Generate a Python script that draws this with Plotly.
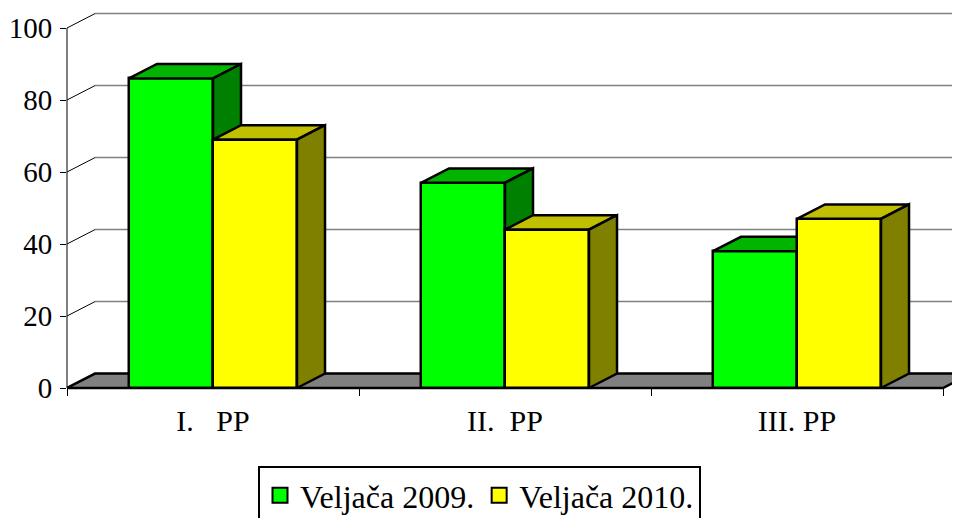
import plotly.graph_objects as go

# ---- data ----
categories = ["I.\u00a0\u00a0\u00a0PP", "II.\u00a0\u00a0PP", "III.\u00a0PP"]
series_names = ["Veljača 2009.", "Veljača 2010."]
veljaca_2009 = [86, 57, 38]
veljaca_2010 = [69, 44, 47]
y_ticks = [0, 20, 40, 60, 80, 100]

# ---- style / geometry constants ----
FONT = "Liberation Serif"
FS_LEG = 32
FS_X = 30
FS_Y = 29
W = 0.2877          # bar width (category units)
DX = 0.0959         # depth offset x (category units)
DY = 4.0            # depth offset y (value units)
XR = [-0.5, 2.5582]
YR = [-2.5, 105]
pos = list(range(len(categories)))

colors = {
    "front": ["#00FF00", "#FFFF00"],
    "top": ["#00B400", "#C0C000"],
    "side": ["#008000", "#808000"],
}


def faces(xs, vals, offset):
    tx, ty, sx, sy = [], [], [], []
    for x, v in zip(xs, vals):
        xl = x + offset
        xr = xl + W
        tx += [xl, xr, xr + DX, xl + DX, xl, None]
        ty += [v, v, v + DY, v + DY, v, None]
        sx += [xr, xr + DX, xr + DX, xr, xr, None]
        sy += [0, DY, v + DY, v, 0, None]
    return tx, ty, sx, sy


fig = go.Figure()
for k, (vals, off, xa, ya) in enumerate([
    (veljaca_2009, -W, "x", "y"),
    (veljaca_2010, 0.0, "x2", "y2"),
]):
    fig.add_trace(go.Bar(
        x=pos, y=vals, width=W, offset=off, xaxis=xa, yaxis=ya,
        marker=dict(color=colors["front"][k], line=dict(color="black", width=2.5)),
        showlegend=False, hoverinfo="skip",
    ))
    tx, ty, sx, sy = faces(pos, vals, off)
    fig.add_trace(go.Scatter(
        x=tx, y=ty, xaxis=xa, yaxis=ya, mode="lines", fill="toself",
        fillcolor=colors["top"][k], line=dict(color="black", width=2.5),
        showlegend=False, hoverinfo="skip",
    ))
    fig.add_trace(go.Scatter(
        x=sx, y=sy, xaxis=xa, yaxis=ya, mode="lines", fill="toself",
        fillcolor=colors["side"][k], line=dict(color="black", width=2.5),
        showlegend=False, hoverinfo="skip",
    ))

# legend entries
for k, name in enumerate(series_names):
    fig.add_trace(go.Scatter(
        x=[None], y=[None], mode="markers", name=name,
        marker=dict(symbol="square", size=15, color=colors["front"][k],
                    line=dict(color="black", width=2)),
    ))

# back wall gridlines, left wall diagonals, floor
shapes = []
x_left, x_right = -0.5, len(categories) - 0.5
for v in y_ticks[1:]:
    shapes.append(dict(type="line", xref="x", yref="y", layer="below",
                       x0=x_left + DX, y0=v + DY, x1=x_right + DX, y1=v + DY,
                       line=dict(color="#808080", width=1.5)))
    shapes.append(dict(type="line", xref="x", yref="y", layer="below",
                       x0=x_left, y0=v, x1=x_left + DX, y1=v + DY,
                       line=dict(color="black", width=1)))
shapes.append(dict(
    type="path", xref="x", yref="y", layer="below",
    path=f"M {x_left},0 L {x_right},0 L {x_right + DX},{DY} L {x_left + DX},{DY} Z",
    fillcolor="#808080", line=dict(color="black", width=2.5)))
# front vertical value axis line
shapes.append(dict(type="line", xref="paper", yref="y", x0=0, x1=0,
                   y0=y_ticks[0], y1=y_ticks[-1], line=dict(color="black", width=1)))

# page body has an 8px margin -> layout in figure pixels = reference pixels - 8
OFF = 8
plot_left = 67 - OFF
plot_right = 960 - OFF
plot_top = 10 - OFF
plot_bottom = 397 - OFF
zero_px = 388 - OFF
plot_h = plot_bottom - plot_top
plot_w = plot_right - plot_left
x_axis_pos = (plot_bottom - zero_px) / plot_h

fig.update_layout(
    width=960, height=518,
    margin=dict(l=plot_left, r=960 - plot_right, t=plot_top, b=518 - plot_bottom,
                autoexpand=False),
    paper_bgcolor="white", plot_bgcolor="white",
    font=dict(family=FONT, size=FS_LEG, color="black"),
    shapes=shapes,
    showlegend=True,
    legend=dict(
        orientation="h", x=(258 - OFF - plot_left) / plot_w, xanchor="left",
        y=(plot_bottom - (466 - OFF)) / plot_h, yanchor="top",
        bordercolor="black", borderwidth=2, bgcolor="white",
        font=dict(family=FONT, size=FS_LEG, color="black"),
    ),
    xaxis=dict(
        range=XR, anchor="free", position=x_axis_pos,
        tickmode="array", tickvals=pos, ticktext=categories,
        tickfont=dict(family=FONT, size=FS_X, color="black"),
        ticks="", showgrid=False, zeroline=False, showline=False,
        ticklabelstandoff=12, automargin=False,
        minor=dict(tickmode="array", tickvals=[p - 0.5 for p in pos] + [x_right],
                   ticks="outside", ticklen=7, tickcolor="black", tickwidth=1,
                   showgrid=False),
        fixedrange=True,
    ),
    yaxis=dict(
        range=YR, tickmode="array", tickvals=y_ticks,
        tickfont=dict(family=FONT, size=FS_Y, color="black"),
        ticks="outside", ticklen=6, tickcolor="black", tickwidth=1,
        showgrid=False, zeroline=False, showline=False, automargin=False,
        ticklabelstandoff=2, fixedrange=True,
    ),
    xaxis2=dict(range=XR, overlaying="x", anchor="y2", visible=False, fixedrange=True),
    yaxis2=dict(range=YR, overlaying="y", anchor="x2", visible=False, fixedrange=True),
    bargap=0, barmode="overlay",
)

fig.write_html("out.html")
